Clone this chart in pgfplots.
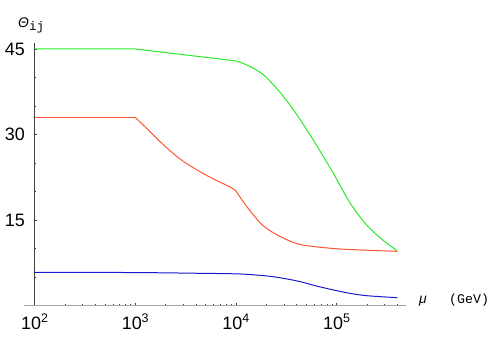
\documentclass[border=0pt]{standalone}
\usepackage{fontspec}
\setmainfont{Liberation Sans}
\newfontfamily\cour{Liberation Mono}
\usepackage{pgfplots}
\pgfplotsset{compat=1.18}
\definecolor{cgreen}{RGB}{40,235,40}
\definecolor{cred}{RGB}{255,85,50}
\definecolor{cblue}{RGB}{25,25,205}
\newcommand{\tl}[1]{10\raisebox{0.42em}{\fontsize{12.5}{12.5}\selectfont #1}}
\begin{document}
\begin{tikzpicture}[x=1bp,y=1bp]
\useasboundingbox (0,0) rectangle (498,349);
\begin{axis}[
  at={(34.5bp,43.5bp)}, anchor=south west,
  scale only axis, width=371.2bp, height=262.8bp,
  xmode=log, xmin=100, xmax=4.85e5, ymin=0, ymax=46.1,
  axis lines=left, axis line style={-},
  x axis line style={gray!70, line width=0.9bp},
  y axis line style={black!75, line width=0.9bp},
  clip=false,
  tick align=inside, major tick length=3bp, minor tick length=2bp,
  tick style={black!75, line width=0.6bp},
  xtick={100,1000,10000,100000},
  xticklabels={\tl{2},\tl{3},\tl{4},\tl{5}},
  minor xtick={200,300,400,500,600,700,800,900,2000,3000,4000,5000,6000,7000,8000,9000,20000,30000,40000,50000,60000,70000,80000,90000,200000,300000,400000},
  ytick={15,30,45}, minor ytick={5,10,20,25,35,40},
  /pgf/number format/assume math mode=true,
  yticklabel style={font=\fontsize{18}{18}\selectfont, anchor=east, inner sep=0pt, xshift=-9.5bp},
  xticklabel style={font=\fontsize{18}{18}\selectfont, anchor=north, inner sep=0pt, yshift=-8bp},
]
\draw[gray!70, line width=0.9bp] (axis cs:78.7,0) -- (axis cs:100,0);
% green
\addplot[cgreen, line width=1bp, mark=none] coordinates {(100,45)(1000,45)(10000,42.9)};
\addplot[cgreen, line width=1bp, mark=none, smooth, tension=0.5] coordinates {
(10000,42.9)(12794,42.2)(18707,40.5)(27416,37.4)(40179,33.5)(58749,29.0)(68391,27.1)(92683,23.2)(135831,18.0)(199067,14.1)(291072,11.4)(400000,9.6)};
% red
\addplot[cred, line width=1bp, mark=none] coordinates {(100,33)(1000,33)};
\addplot[cred, line width=1bp, mark=none, smooth, tension=0.5] coordinates {
(1000,33)(1403,30.5)(1901,28.2)(2786,25.7)(4083,23.8)(5970,22.2)(8730,20.8)(10000,20.1)};
\addplot[cred, line width=1bp, mark=none, smooth, tension=0.5] coordinates {
(10000,20.1)(12882,17.3)(18621,14.0)(27542,12.1)(43351,10.7)(92683,10.0)(199067,9.7)(400000,9.5)};
% blue
\addplot[cblue, line width=1bp, mark=none, smooth, tension=0.5] coordinates {
(100,5.82)(1000,5.78)(4365,5.65)(10965,5.53)(20417,5.18)(29512,4.77)(43652,4.18)(63096,3.42)(93325,2.72)(134896,2.14)(199526,1.72)(400000,1.37)};
\end{axis}
\node[anchor=base west, inner sep=0pt, font=\fontsize{14}{14}\selectfont] at (18,321.7) {\textit{Θ}\raisebox{-0.22em}{\fontsize{12.5}{12.5}\cour ij}};
\node[anchor=base west, inner sep=0pt, font=\fontsize{14}{14}\selectfont] at (419,46) {\textit{μ}};
\node[anchor=base west, inner sep=0pt, font=\fontsize{13.3}{13.3}\cour] at (449,46) {(GeV)};
\end{tikzpicture}
\end{document}
